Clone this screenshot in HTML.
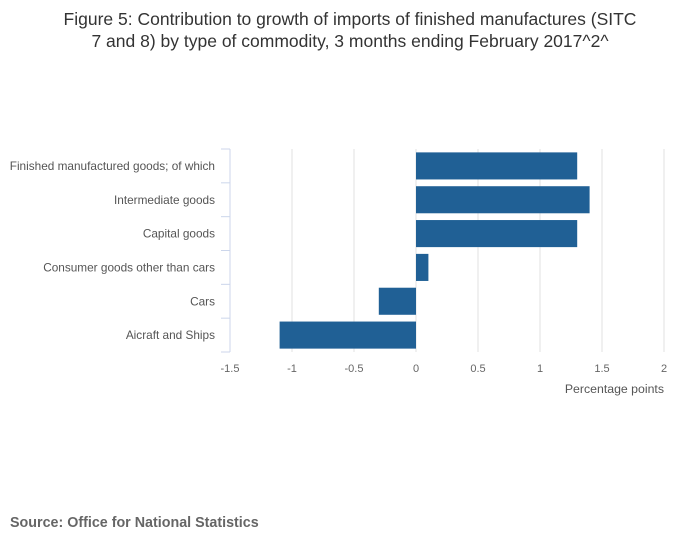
<!DOCTYPE html>
<html><head><meta charset="utf-8"><style>
body{margin:0;background:#fff;font-family:"Liberation Sans","DejaVu Sans",sans-serif;}
#wrap{position:relative;width:700px;height:549px;overflow:hidden}
</style></head><body>
<div id="wrap">
<svg id="svg" width="700" height="549" xmlns="http://www.w3.org/2000/svg">
<text x="350" y="25" text-anchor="middle" font-size="17.5" fill="#333">Figure 5: Contribution to growth of imports of finished manufactures (SITC</text>
<text x="350" y="47" text-anchor="middle" font-size="17.5" fill="#333">7 and 8) by type of commodity, 3 months ending February 2017^2^</text>
<g id="grid"></g><g id="bars"></g><g id="axes"></g>
<text x="664" y="393" text-anchor="end" font-size="12.3" fill="#555">Percentage points</text>
<text x="10" y="527" font-size="14.3" font-weight="bold" fill="#666">Source: Office for National Statistics</text>
</svg>
</div>
<script>
const categories=["Finished manufactured goods; of which","Intermediate goods","Capital goods","Consumer goods other than cars","Cars","Aicraft and Ships"];
const values=[1.3,1.4,1.3,0.1,-0.3,-1.1];
const ticks=[-1.5,-1,-0.5,0,0.5,1,1.5,2];
const tickLabels=["-1.5","-1","-0.5","0","0.5","1","1.5","2"];
const NS="http://www.w3.org/2000/svg";
const x0=230,x1=664,vmin=-1.5,vmax=2,yTop=149,yBot=352;
const xs=v=>x0+(v-vmin)/(vmax-vmin)*(x1-x0);
const band=(yBot-yTop)/categories.length;
function mk(tag,attrs,parent){const e=document.createElementNS(NS,tag);for(const k in attrs)e.setAttribute(k,attrs[k]);document.getElementById(parent).appendChild(e);return e;}
ticks.forEach((t,i)=>{
  if(i>0){const g=mk('line',{x1:xs(t),x2:xs(t),y1:yTop,y2:yBot,stroke:'#e2e2e2','stroke-width':1},'grid');
  
  }
  const l=mk('text',{x:xs(t),y:372,'text-anchor':'middle','font-size':11,fill:'#666'},'axes');
  l.textContent=tickLabels[i];
  
  
});
values.forEach((v,i)=>{
  const y=yTop+i*band+band*0.1;
  const r=mk('rect',{x:Math.min(xs(0),xs(v)),y:y,width:Math.abs(xs(v)-xs(0)),height:band*0.8,fill:'#206095'},'bars');
  
  
  const t=mk('text',{x:215,y:yTop+(i+0.5)*band+4,'text-anchor':'end','font-size':11.8,fill:'#555'},'axes');
  t.textContent=categories[i];
  
  
});
for(let i=0;i<=categories.length;i++){
  const y=yTop+i*band;
  const tk=mk('line',{x1:221,x2:x0,y1:y,y2:y,stroke:'#ccd6eb','stroke-width':1},'axes');
  
  
}
const ax=mk('line',{x1:x0,x2:x0,y1:yTop,y2:yBot,stroke:'#ccd6eb','stroke-width':1},'axes');


</script>
</body></html>
